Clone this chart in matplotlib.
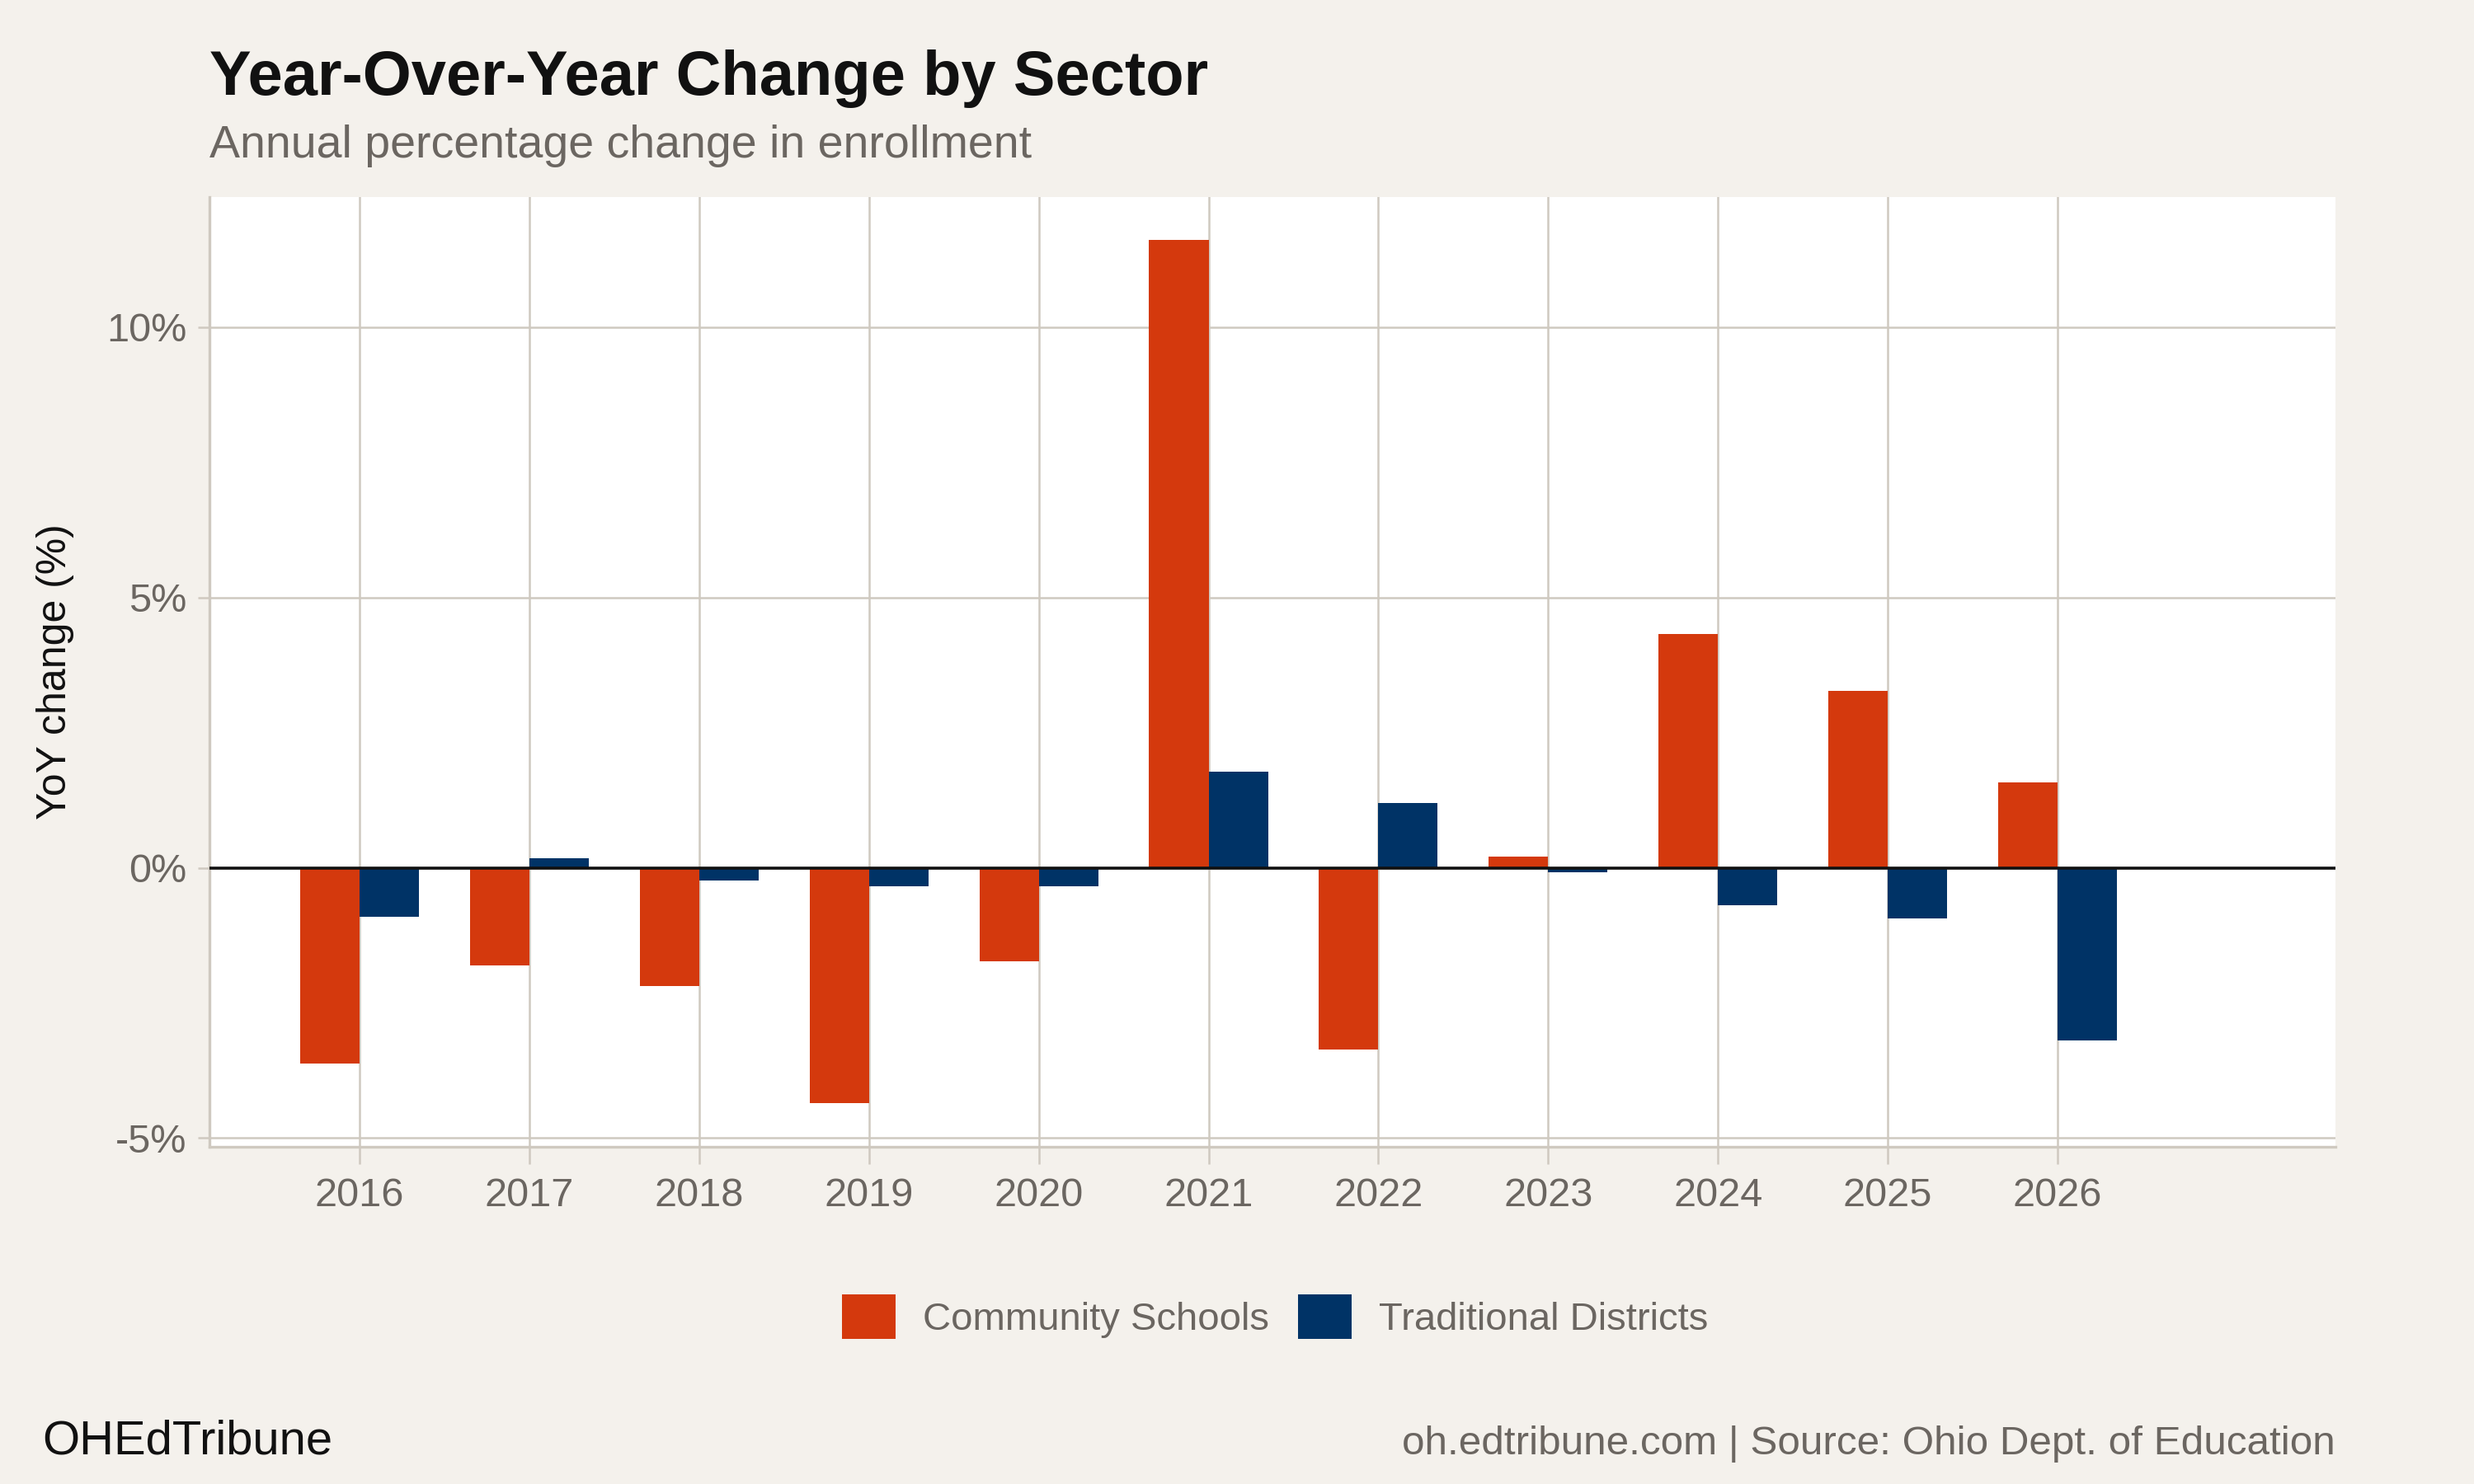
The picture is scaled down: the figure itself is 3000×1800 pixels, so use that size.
import numpy as np
import matplotlib
matplotlib.use("Agg")
import matplotlib.pyplot as plt
from matplotlib.patches import Patch
from matplotlib.ticker import FuncFormatter

# ── Daten ────────────────────────────────────────────────────────────────────
years = [2016, 2017, 2018, 2019, 2020, 2021, 2022, 2023, 2024, 2025, 2026]
community = [-3.63, -1.81, -2.19, -4.36, -1.73, 11.61, -3.36, 0.20, 4.33, 3.27, 1.58]
traditional = [-0.91, 0.18, -0.23, -0.35, -0.35, 1.78, 1.20, -0.09, -0.70, -0.94, -3.19]
series_names = ["Community Schools", "Traditional Districts"]
y_ticks = [-5, 0, 5, 10]

BG, PANEL = "#F4F1EC", "#FFFFFF"
GRID = "#CFC9C0"
ORANGE, NAVY = "#D4390D", "#003366"
GREY, BLACK = "#6B6661", "#111111"

plt.rcParams["font.family"] = ["Liberation Sans", "DejaVu Sans"]

fig = plt.figure(figsize=(15, 9), dpi=200)
fig.patch.set_facecolor(BG)
ax = fig.add_axes([0.0848, 0.2274, 0.9439 - 0.0848, 0.8672 - 0.2274])
ax.set_facecolor(PANEL)

x = np.array(years, dtype=float)
w = 0.35
ax.bar(x - w / 2, community, width=w, color=ORANGE, zorder=3)
ax.bar(x + w / 2, traditional, width=w, color=NAVY, zorder=3)
ax.axhline(0, color=BLACK, linewidth=1.3, zorder=4)

# Achsen
ax.set_xlim(2015.117, 2027.636)
lo = min(min(community), min(traditional))
hi = max(max(community), max(traditional))
pad = 0.05 * (hi - lo)
ax.set_ylim(lo - pad, hi + pad)
ax.set_xticks(years)
ax.set_xticklabels([str(y) for y in years])
ax.set_yticks(y_ticks)
ax.yaxis.set_major_formatter(FuncFormatter(lambda v, p: f"{v:.0f}%"))

ax.grid(True, color=GRID, linewidth=0.9, zorder=0)
for side in ["top", "right"]:
    ax.spines[side].set_visible(False)
for side in ["left", "bottom"]:
    ax.spines[side].set_color(GRID)
    ax.spines[side].set_linewidth(1.2)
ax.tick_params(axis="both", colors=GRID, labelcolor=GREY, labelsize=17.5, width=0.9)
ax.tick_params(axis="x", length=7.5, pad=6)
ax.tick_params(axis="y", length=5, pad=5)

ax.set_ylabel("YoY change (%)", fontsize=18, color=BLACK, labelpad=14)

# Titel
fig.text(0.0848, 0.936, "Year-Over-Year Change by Sector", fontsize=27.3,
         fontweight="bold", color=BLACK, va="baseline", ha="left")
fig.text(0.0848, 0.894, "Annual percentage change in enrollment", fontsize=20,
         color=GREY, va="baseline", ha="left")

# Legende
handles = [Patch(facecolor=ORANGE, label=series_names[0]),
           Patch(facecolor=NAVY, label=series_names[1])]
leg = fig.legend(handles=handles, loc="center", bbox_to_anchor=(0.5153, 0.1127),
                 ncol=2, frameon=False, fontsize=17, handlelength=1.38,
                 handleheight=1.38, handletextpad=0.69, columnspacing=0.75)
for t in leg.get_texts():
    t.set_color(GREY)

# Caption
fig.text(0.0172, 0.020, "OHEdTribune", fontsize=20.9, color=BLACK,
         va="baseline", ha="left")
fig.text(0.9439, 0.020, "oh.edtribune.com | Source: Ohio Dept. of Education",
         fontsize=17.8, color=GREY, va="baseline", ha="right")

fig.savefig("out.png", dpi=200, facecolor=BG)
